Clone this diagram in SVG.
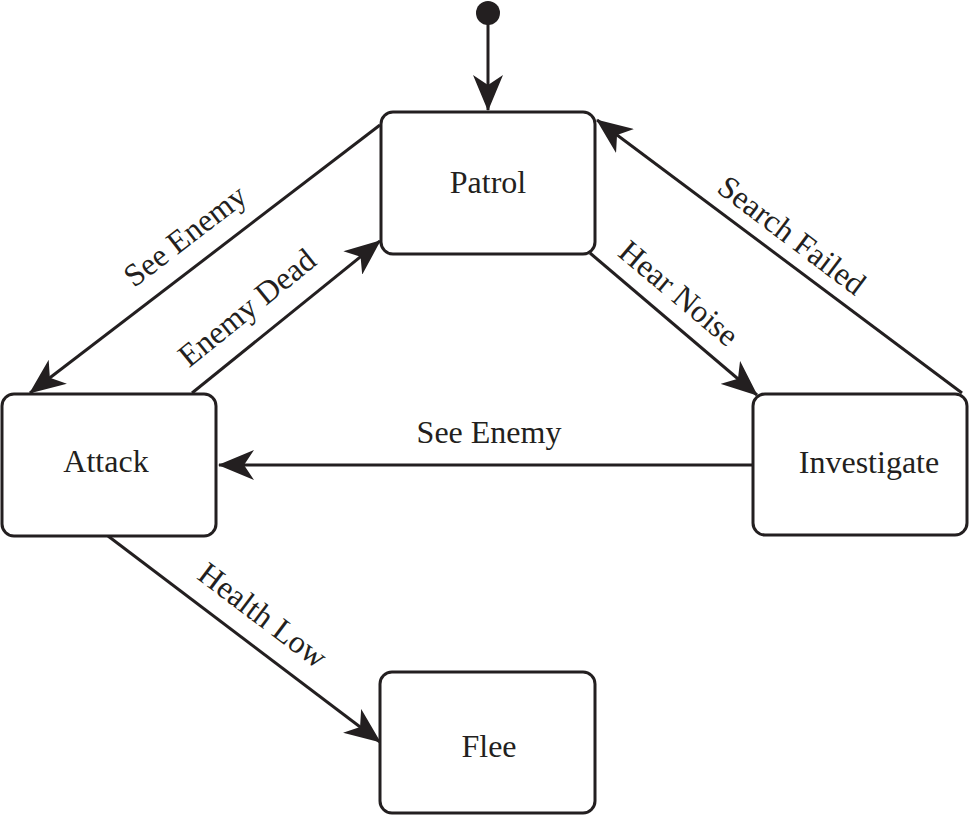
<svg xmlns="http://www.w3.org/2000/svg" width="970" height="816" viewBox="0 0 970 816">
<style>
.box{fill:#fff;stroke:#231f20;stroke-width:3}
.edge{fill:none;stroke:#231f20;stroke-width:3}
text{font-family:"Liberation Serif","Times New Roman",serif;font-size:32px;fill:#231f20;text-anchor:middle}
</style>
<defs>
<marker id="arr" viewBox="0 0 36 30" refX="35" refY="15" markerWidth="36" markerHeight="30" markerUnits="userSpaceOnUse" orient="auto">
<path d="M0,0 L36,15 L0,30 L10,15 Z" fill="#231f20"/>
</marker>
</defs>
<rect width="970" height="816" fill="#fff"/>
<g id="connectors">
<circle id="initial" cx="488" cy="13" r="12" fill="#231f20"/>
<line class="edge" x1="488" y1="20" x2="488" y2="110" marker-end="url(#arr)"/>
<line class="edge" x1="380" y1="125" x2="30" y2="393" marker-end="url(#arr)"/>
<line class="edge" x1="192" y1="393" x2="380" y2="241" marker-end="url(#arr)"/>
<line class="edge" x1="590" y1="253" x2="757" y2="395" marker-end="url(#arr)"/>
<line class="edge" x1="962" y1="393" x2="597" y2="120" marker-end="url(#arr)"/>
<line class="edge" x1="753" y1="465" x2="219" y2="465" marker-end="url(#arr)"/>
<line class="edge" x1="108" y1="536" x2="380" y2="742" marker-end="url(#arr)"/>
<text transform="translate(186,237) rotate(-37.5)" y="9">See Enemy</text>
<text transform="translate(248,309) rotate(-39)" y="9">Enemy Dead</text>
<text transform="translate(679,293) rotate(40)" y="11">Hear Noise</text>
<text transform="translate(792,235) rotate(37)" y="11">Search Failed</text>
<text x="489" y="443">See Enemy</text>
<text transform="translate(263,615) rotate(37)" y="11">Health Low</text>
</g>
<g id="patrol">
<rect class="box" x="381" y="112" width="214" height="142" rx="12"/>
<text x="488" y="193">Patrol</text>
</g>
<g id="attack">
<rect class="box" x="2" y="394" width="214" height="142" rx="12"/>
<text x="106" y="472">Attack</text>
</g>
<g id="investigate">
<rect class="box" x="753" y="394" width="214" height="141" rx="12"/>
<text x="869" y="473">Investigate</text>
</g>
<g id="flee">
<rect class="box" x="380" y="672" width="215" height="141" rx="12"/>
<text x="489" y="757">Flee</text>
</g>
</svg>
